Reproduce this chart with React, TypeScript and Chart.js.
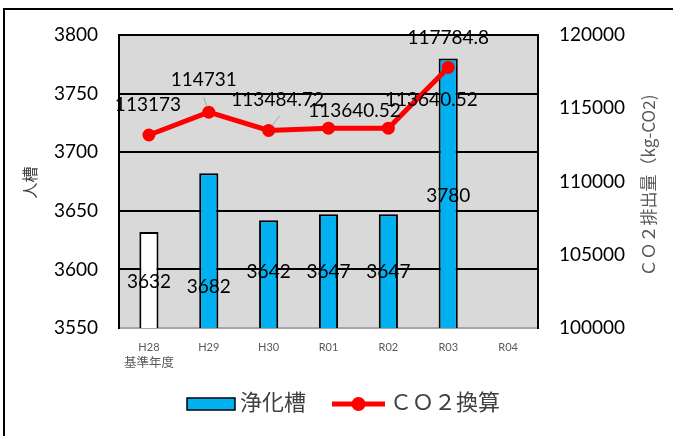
import React, { useEffect, useRef } from "react";
import { Chart, registerables } from "chart.js";

Chart.register(...registerables);

// ---- data ----
const categories: (string | string[])[] = [["H28", "基準年度"], "H29", "H30", "R01", "R02", "R03", "R04"];
const tankValues: (number | null)[] = [3632, 3682, 3642, 3647, 3647, 3780, null];
const co2Values: (number | null)[] = [113173, 114731, 113484.72, 113640.52, 113640.52, 117784.8, null];
const leftTicks = { min: 3550, max: 3800, step: 50 };
const rightTicks = { min: 100000, max: 120000, step: 5000 };
const tankSeriesName = "浄化槽";
const co2SeriesName = "ＣＯ２換算";
const leftTitle = "人槽";
const rightTitle = "ＣＯ２排出量（kg-CO2)";

// ---- styles ----
const LATIN = "Lato, 'Noto Sans CJK JP', sans-serif";
const CJK = "'Noto Sans CJK JP', sans-serif";
const BLUE = "#00b0f0";
const RED = "#ff0000";
const barColors = tankValues.map((_, i) => (i === 0 ? "#ffffff" : BLUE));

// label offsets (px) relative to each mark
const barLabelOffsets: [number, number][] = [[0, 50], [0, 114], [0, 52], [0, 58], [0, 58], [0, 137]];
const lineLabelOffsets: [number, number][] = [[-1, -30], [-5, -32], [9, -31], [26, -17], [43, -28], [0, -30]];
const lineLeaders: Record<number, [number, number]> = { 1: [0, 17], 2: [2, 16] };

const PLOT = { left: 119, right: 538, top: 35, bottom: 328 };

const backgroundPlugin = {
  id: "bg",
  beforeDraw(chart: any) {
    const { ctx, chartArea, width, height } = chart;
    ctx.save();
    ctx.fillStyle = "#ffffff";
    ctx.fillRect(0, 0, width, height);
    ctx.strokeStyle = "#000";
    ctx.lineWidth = 2;
    ctx.beginPath();
    ctx.moveTo(4, height + 2);
    ctx.lineTo(4, 9);
    ctx.lineTo(width + 2, 9);
    ctx.stroke();
    ctx.fillStyle = "#d9d9d9";
    ctx.fillRect(chartArea.left, chartArea.top, chartArea.right - chartArea.left, chartArea.bottom - chartArea.top);
    ctx.restore();
  },
};

const labelsPlugin = {
  id: "valueLabels",
  afterDatasetsDraw(chart: any) {
    const ctx = chart.ctx;
    ctx.save();
    ctx.font = `19px ${LATIN}`;
    ctx.fillStyle = "#000";
    ctx.textAlign = "center";
    ctx.textBaseline = "middle";
    const barMeta = chart.getDatasetMeta(0);
    barMeta.data.forEach((el: any, i: number) => {
      const v = tankValues[i];
      if (v == null) return;
      const off = barLabelOffsets[i] || [0, 0];
      ctx.fillText(String(v), el.x + off[0], el.y + off[1]);
    });
    const lineMeta = chart.getDatasetMeta(1);
    lineMeta.data.forEach((el: any, i: number) => {
      const v = co2Values[i];
      if (v == null) return;
      const off = lineLabelOffsets[i] || [0, -20];
      const lx = el.x + off[0];
      const ly = el.y + off[1];
      const lead = lineLeaders[i];
      if (lead) {
        const sx = lx + lead[0];
        const sy = ly + lead[1];
        const dx = el.x - sx;
        const dy = el.y - sy;
        const d = Math.hypot(dx, dy);
        const r = 6;
        ctx.strokeStyle = "#a6a6a6";
        ctx.lineWidth = 1;
        ctx.beginPath();
        ctx.moveTo(sx, sy);
        ctx.lineTo(el.x - (dx / d) * r, el.y - (dy / d) * r);
        ctx.stroke();
      }
      ctx.fillText(String(v), lx, ly);
    });
    ctx.restore();
  },
};

const decorPlugin = {
  id: "decor",
  afterDraw(chart: any) {
    const ctx = chart.ctx;
    const dpr = chart.currentDevicePixelRatio || 1;
    ctx.save();

    // category labels (drawn from the category scale)
    const xs = chart.scales.x;
    ctx.fillStyle = "#595959";
    ctx.textAlign = "center";
    ctx.textBaseline = "middle";
    categories.forEach((c, i) => {
      const px = xs.getPixelForTick(i);
      const lines = Array.isArray(c) ? c : [c];
      lines.forEach((t, j) => {
        const isCjk = /[^\x00-\x7f]/.test(t);
        ctx.font = isCjk ? `12.5px ${CJK}` : `11px ${LATIN}`;
        ctx.fillText(t, px, xs.top + 19 + j * 15.5);
      });
    });

    // axis titles
    ctx.fillStyle = "#404040";
    ctx.font = `16px ${CJK}`;
    ctx.translate(29.5, 182.5);
    ctx.rotate(-Math.PI / 2);
    ctx.fillText(leftTitle, 0, 0);
    ctx.setTransform(dpr, 0, 0, dpr, 0, 0);
    ctx.fillStyle = "#595959";
    ctx.font = `17px ${CJK}`;
    ctx.translate(648.5, 185.5);
    ctx.rotate(-Math.PI / 2);
    ctx.fillText(rightTitle, 0, 0);
    ctx.setTransform(dpr, 0, 0, dpr, 0, 0);

    // legend
    const cy = 404;
    let x = 187;
    ctx.fillStyle = BLUE;
    ctx.fillRect(x, cy - 6, 48, 12);
    ctx.strokeStyle = "#000";
    ctx.lineWidth = 1.5;
    ctx.strokeRect(x, cy - 6, 48, 12);
    x += 53;
    ctx.font = `22px ${CJK}`;
    ctx.fillStyle = "#404040";
    ctx.textAlign = "left";
    ctx.fillText(tankSeriesName, x, cy - 2);
    x += ctx.measureText(tankSeriesName).width + 26;
    ctx.strokeStyle = RED;
    ctx.lineWidth = 5;
    ctx.beginPath();
    ctx.moveTo(x, cy);
    ctx.lineTo(x + 53, cy);
    ctx.stroke();
    ctx.fillStyle = RED;
    ctx.beginPath();
    ctx.arc(x + 26.5, cy, 7, 0, Math.PI * 2);
    ctx.fill();
    x += 58;
    ctx.fillStyle = "#404040";
    ctx.fillText(co2SeriesName, x, cy - 2);
    ctx.restore();
  },
};

export default function App() {
  const ref = useRef<HTMLCanvasElement | null>(null);
  useEffect(() => {
    if (!ref.current) return;
    const chart = new Chart(ref.current, {
      type: "bar",
      data: {
        labels: categories as any,
        datasets: [
          {
            type: "bar",
            label: tankSeriesName,
            data: tankValues as any,
            backgroundColor: barColors,
            borderColor: "#000",
            borderWidth: 2,
            barPercentage: 0.32,
            categoryPercentage: 1,
            yAxisID: "y",
            order: 2,
          },
          {
            type: "line",
            label: co2SeriesName,
            data: co2Values as any,
            borderColor: RED,
            backgroundColor: RED,
            borderWidth: 5,
            pointRadius: 6.5,
            pointHoverRadius: 6.5,
            pointBackgroundColor: RED,
            pointBorderColor: RED,
            pointBorderWidth: 0,
            tension: 0,
            yAxisID: "y1",
            order: 1,
          },
        ],
      },
      options: {
        animation: false,
        responsive: true,
        maintainAspectRatio: false,
        layout: { padding: { top: PLOT.top, left: 0, right: 0, bottom: 0 } },
        plugins: { legend: { display: false }, tooltip: { enabled: false }, title: { display: false } },
        scales: {
          x: {
            grid: { display: false },
            border: { display: false },
            ticks: { display: false },
            afterFit(scale: any) {
              scale.height = 436 - PLOT.bottom;
            },
          },
          y: {
            position: "left",
            min: leftTicks.min,
            max: leftTicks.max,
            ticks: {
              stepSize: leftTicks.step,
              color: "#000",
              font: { family: LATIN, size: 19 },
              padding: 21,
              callback: (v: any) => String(v),
            },
            grid: {
              drawTicks: false,
              color: (c: any) => (c.tick && c.tick.value === leftTicks.min ? "#a6a6a6" : "#000"),
              lineWidth: 2,
            },
            border: { display: true, color: "#000", width: 2 },
            afterFit(scale: any) {
              scale.width = PLOT.left;
            },
          },
          y1: {
            position: "right",
            min: rightTicks.min,
            max: rightTicks.max,
            ticks: {
              stepSize: rightTicks.step,
              color: "#000",
              font: { family: LATIN, size: 19 },
              padding: 21,
              callback: (v: any) => String(v),
            },
            grid: { display: false, drawTicks: false },
            border: { display: true, color: "#000", width: 2 },
            afterFit(scale: any) {
              scale.width = 673 - PLOT.right;
            },
          },
        },
      },
      plugins: [backgroundPlugin, labelsPlugin, decorPlugin],
    } as any);
    return () => chart.destroy();
  }, []);
  return (
    <div style={{ position: "fixed", left: 0, top: 0, width: 673, height: 436, background: "#fff" }}>
      <canvas ref={ref} />
    </div>
  );
}
